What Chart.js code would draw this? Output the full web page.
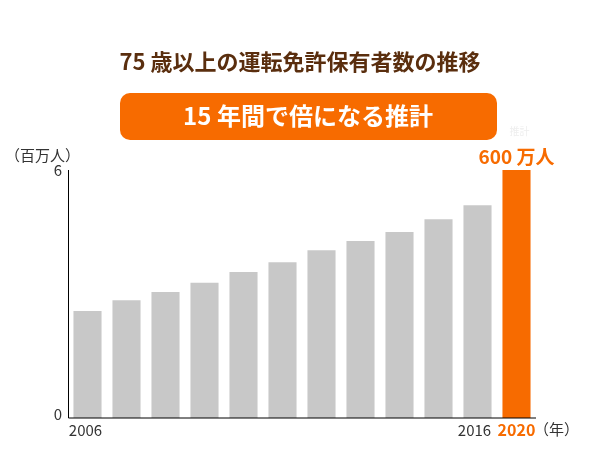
<!DOCTYPE html>
<html><head><meta charset="utf-8">
<script src="https://cdn.jsdelivr.net/npm/chart.js@4"></script>
<style>html,body{margin:0;padding:0;background:#fff}#w{width:600px;height:450px}</style>
</head><body><div id="w"><canvas id="c" width="600" height="450"></canvas></div>
<script>
const categories=["2006","2007","2008","2009","2010","2011","2012","2013","2014","2015","2016","2020"];
const values=[2.59,2.85,3.05,3.27,3.53,3.77,4.06,4.28,4.50,4.81,5.15,6.0];
const shownLabels=["2006","2016","2020"];
const F='"Noto Sans CJK JP","Noto Sans",sans-serif';
const colors=values.map((v,i)=>i===values.length-1?'#f76b00':'#c8c8c8');
const deco={id:'deco',afterDraw(ch){
 const c=ch.ctx,a=ch.chartArea,x=ch.scales.x,y=ch.scales.y;
 c.save();
 c.fillStyle='#5a2e0e';c.font='bold 22px '+F;c.textAlign='center';c.textBaseline='middle';
 c.fillText('75 歳以上の運転免許保有者数の推移',300,62);
 c.fillStyle='#f76b00';c.beginPath();c.roundRect(120,93,377,47,10);c.fill();
 c.fillStyle='#fff';c.font='bold 24px '+F;c.fillText('15 年間で倍になる推計',308,116);
 c.fillStyle='#333';c.font='15px '+F;c.textAlign='left';c.fillText('（百万人）',5,155);
 c.textAlign='right';c.fillText('6',62,170);c.fillText('0',62,414);
 const last=categories.length-1,lx=x.getPixelForValue(last);
 c.textAlign='center';c.fillStyle='#eee';c.font='10px '+F;c.fillText('推計',lx+3,131);
 c.fillStyle='#f76b00';c.font='bold 19px '+F;c.fillText('600 万人',lx,157);
 c.font='15px '+F;c.textBaseline='top';c.fillStyle='#333';
 c.fillText(shownLabels[0],x.getPixelForValue(0)-2,423);
 c.fillText(shownLabels[1],x.getPixelForValue(10)-3,423);
 c.fillStyle='#f76b00';c.font='bold 16px '+F;c.fillText(shownLabels[2],lx,422);
 c.fillStyle='#333';c.font='15px '+F;c.fillText('（年）',lx+40,422);
 c.strokeStyle='#000';c.lineWidth=1;c.beginPath();c.moveTo(a.left+0.5,a.top);c.lineTo(a.left+0.5,a.bottom);c.lineTo(a.right,a.bottom);c.stroke();
 c.restore();}};
new Chart(document.getElementById('c'),{type:'bar',
 data:{labels:categories,datasets:[{data:values,backgroundColor:colors,categoryPercentage:1,barPercentage:0.72}]},
 options:{responsive:false,animation:false,layout:{padding:{left:68,right:64,top:170,bottom:32}},
  plugins:{legend:{display:false},tooltip:{enabled:false}},
  scales:{x:{display:false,offset:true},y:{display:false,min:0,max:6}}},
 plugins:[deco]});
</script></body></html>
